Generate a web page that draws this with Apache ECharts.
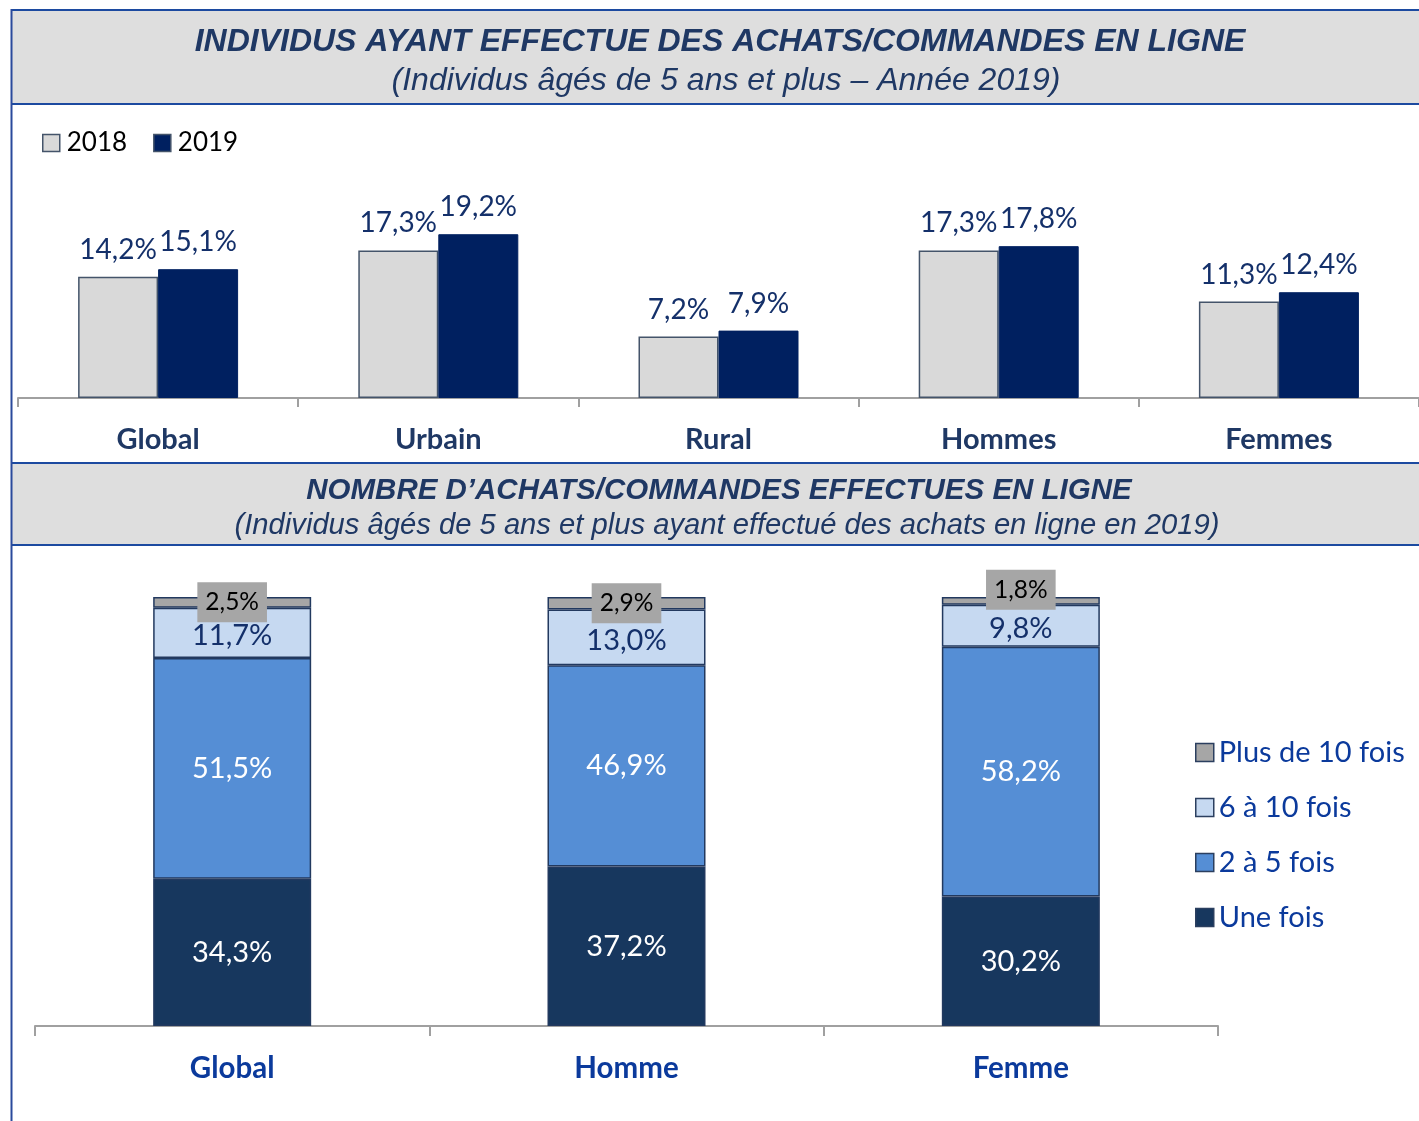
<!DOCTYPE html>
<html>
<head>
<meta charset="utf-8">
<script src="https://cdn.jsdelivr.net/npm/echarts@6/dist/echarts.min.js"></script>
<style>
  html, body { margin: 0; padding: 0; background: #fff; }
  #chart { width: 1419px; height: 1121px; }
</style>
</head>
<body>
<div id="chart"></div>
<script>
// Top panel: share of individuals who bought/ordered online
const zones = ['Global', 'Urbain', 'Rural', 'Hommes', 'Femmes'];
const years = ['2018', '2019'];
const share2018 = [14.2, 17.3, 7.2, 17.3, 11.3];
const share2019 = [15.1, 19.2, 7.9, 17.8, 12.4];

// Bottom panel: number of online purchases (distribution, %)
const groups = ['Global', 'Homme', 'Femme'];
const freqNames = ['Une fois', '2 à 5 fois', '6 à 10 fois', 'Plus de 10 fois'];
const uneFois = [34.3, 37.2, 30.2];
const deuxACinq = [51.5, 46.9, 58.2];
const sixADix = [11.7, 13.0, 9.8];
const plusDeDix = [2.5, 2.9, 1.8];

const title1 = 'INDIVIDUS AYANT EFFECTUE DES ACHATS/COMMANDES EN LIGNE';
const sub1 = '(Individus âgés de 5 ans et plus – Année 2019)';
const title2 = 'NOMBRE D\u2019ACHATS/COMMANDES EFFECTUES EN LIGNE';
const sub2 = '(Individus âgés de 5 ans et plus ayant effectué des achats en ligne en 2019)';

const navy = '#1f3864';
const frameBlue = '#1c4aa0';
const bodyFont = 'Lato, "Noto Sans", sans-serif';
const headFont = '"Liberation Sans", Arial, sans-serif';
const fmt = v => String(v.toFixed(1)).replace('.', ',') + '%';

const chart = echarts.init(document.getElementById('chart'), null, { renderer: 'canvas' });

const headerBox = (y, h) => ([
  { type: 'rect', shape: { x: 12, y: y, width: 1407, height: h }, style: { fill: '#dedede' }, z: 0 },
  { type: 'line', shape: { x1: 11, y1: y, x2: 1419, y2: y }, style: { stroke: frameBlue, lineWidth: 2 }, z: 1 },
  { type: 'line', shape: { x1: 11, y1: y + h, x2: 1419, y2: y + h }, style: { stroke: frameBlue, lineWidth: 2 }, z: 1 }
]);

const barLabel = {
  show: true, position: 'top', distance: 13,
  fontFamily: bodyFont, fontSize: 28, color: '#14306a',
  formatter: p => fmt(p.value)
};

const stackSeries = (name, data, color, labelColor, extra) => ({
  name: name, type: 'bar', stack: 'n', xAxisIndex: 1, yAxisIndex: 1,
  data: data, barWidth: 158,
  itemStyle: { color: color, borderColor: '#22395f', borderWidth: 1.5 },
  label: Object.assign({
    show: true, position: 'inside', fontFamily: bodyFont, fontSize: 29,
    color: labelColor, formatter: p => fmt(p.value)
  }, extra || {})
});

// the thinnest top segment (Femme) gets its tag lifted so the 6-10 label stays readable
const plusDeDixItems = plusDeDix.map((v, i) =>
  i === 2 ? { value: v, label: { offset: [0, -11] } } : v);

chart.setOption({
  animation: false,
  backgroundColor: '#ffffff',
  graphic: [
    ...headerBox(10, 94),
    ...headerBox(463, 82),
    { type: 'line', shape: { x1: 11.5, y1: 9, x2: 11.5, y2: 1121 }, style: { stroke: '#2a4a9c', lineWidth: 2 }, z: 2 }
  ],
  title: [
    { text: title1, left: 715, top: 21, textAlign: 'center',
      textStyle: { fontFamily: headFont, fontSize: 32, fontWeight: 'bold', fontStyle: 'italic', color: navy } },
    { text: sub1, left: 721, top: 60, textAlign: 'center',
      textStyle: { fontFamily: headFont, fontSize: 32, fontWeight: 'normal', fontStyle: 'italic', color: navy } },
    { text: title2, left: 714, top: 471, textAlign: 'center',
      textStyle: { fontFamily: headFont, fontSize: 29.5, fontWeight: 'bold', fontStyle: 'italic', color: navy } },
    { text: sub2, left: 722, top: 506, textAlign: 'center',
      textStyle: { fontFamily: headFont, fontSize: 29.2, fontWeight: 'normal', fontStyle: 'italic', color: navy } }
  ],
  legend: [
    { data: years, left: 37, top: 125, icon: 'rect', itemWidth: 17, itemHeight: 17, itemGap: 26,
      textStyle: { fontFamily: bodyFont, fontSize: 26, color: '#000', padding: [0, 0, 0, 2] }, selectedMode: false,
      itemStyle: { borderColor: '#44546a', borderWidth: 1.5 } },
    { data: freqNames.slice().reverse(), orient: 'vertical', left: 1190, top: 733, icon: 'rect',
      itemWidth: 18, itemHeight: 18, itemGap: 26,
      textStyle: { fontFamily: bodyFont, fontSize: 29, color: '#0b3a9c' }, selectedMode: false,
      itemStyle: { borderColor: '#2b3f5f', borderWidth: 1.5 } }
  ],
  grid: [
    { left: 18, top: 184.75, width: 1406, height: 213.25 },
    { left: 35, top: 597, width: 1183, height: 429 }
  ],
  xAxis: [
    { type: 'category', gridIndex: 0, data: zones,
      axisLine: { show: true, lineStyle: { color: '#a0a0a0', width: 2 } },
      axisTick: { show: true, length: 9, lineStyle: { color: '#a0a0a0', width: 2 } },
      axisLabel: { margin: 27, fontFamily: bodyFont, fontSize: 29, fontWeight: 'bold', color: navy } },
    { type: 'category', gridIndex: 1, data: groups,
      axisLine: { show: true, lineStyle: { color: '#a0a0a0', width: 2 } },
      axisTick: { show: true, length: 10, lineStyle: { color: '#a0a0a0', width: 2 } },
      axisLabel: { margin: 27, fontFamily: bodyFont, fontSize: 29.5, fontWeight: 'bold', color: '#0b3a9c' } }
  ],
  yAxis: [
    { type: 'value', gridIndex: 0, min: 0, max: 25, show: false, splitLine: { show: false } },
    { type: 'value', gridIndex: 1, min: 0, max: 100, show: false, splitLine: { show: false } }
  ],
  series: [
    { name: '2018', type: 'bar', xAxisIndex: 0, yAxisIndex: 0, data: share2018,
      barWidth: 80, barGap: '0%',
      itemStyle: { color: '#d9d9d9', borderColor: '#44546a', borderWidth: 1.5 },
      label: barLabel },
    { name: '2019', type: 'bar', xAxisIndex: 0, yAxisIndex: 0, data: share2019,
      barWidth: 80, barGap: '0%',
      itemStyle: { color: '#002060', borderColor: '#002060', borderWidth: 1 },
      label: barLabel },
    stackSeries(freqNames[0], uneFois, '#17375e', '#ffffff'),
    stackSeries(freqNames[1], deuxACinq, '#558ed5', '#ffffff'),
    stackSeries(freqNames[2], sixADix, '#c6d9f1', '#14306a', { offset: [0, 3] }),
    stackSeries(freqNames[3], plusDeDixItems, '#a6a6a6', '#000000',
      { fontSize: 24.5, backgroundColor: '#a6a6a6', padding: [8, 8, 7, 8] })
  ]
});
</script>
</body>
</html>
